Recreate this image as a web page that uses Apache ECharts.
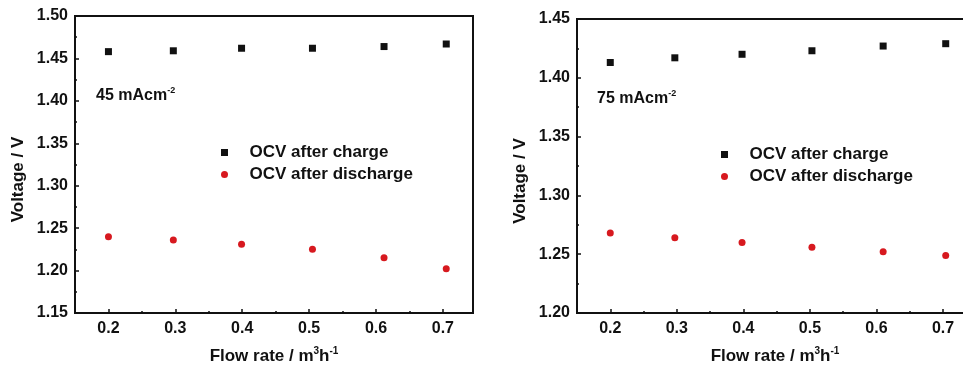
<!DOCTYPE html>
<html>
<head>
<meta charset="utf-8">
<script src="https://cdn.jsdelivr.net/npm/echarts@6/dist/echarts.min.js"></script>
<style>
  html, body { margin: 0; padding: 0; background: #fff; }
  #chart { width: 963px; height: 368px; }
</style>
</head>
<body>
<div id="chart"></div>
<script>
// values
const flowLeft = [0.2, 0.297, 0.399, 0.505, 0.612, 0.705];
const chargeLeft = [1.458, 1.459, 1.462, 1.462, 1.464, 1.467];
const dischargeLeft = [1.240, 1.236, 1.231, 1.225, 1.215, 1.202];

const flowRight = [0.2, 0.297, 0.398, 0.503, 0.610, 0.704];
const chargeRight = [1.413, 1.417, 1.420, 1.423, 1.427, 1.429];
const dischargeRight = [1.268, 1.264, 1.260, 1.256, 1.252, 1.249];

const xTicks = [0.2, 0.3, 0.4, 0.5, 0.6, 0.7];
const xMinorTicks = [0.25, 0.35, 0.45, 0.55, 0.65];
const seriesNames = ['OCV after charge', 'OCV after discharge'];
const panelLabels = ['45', '75'];

const font = '"Liberation Sans", Arial, sans-serif';
const ink = '#111';
const red = '#d7191f';

const pairs = (xs, ys) => xs.map((x, i) => [x, ys[i]]);

const chart = echarts.init(document.getElementById('chart'));

const baseX = (grid, min, max) => ({
    type: 'value', gridIndex: grid, min: min, max: max,
    name: '{m|Flow rate / m}{sup|3}{m|h}{sup|-1}',
    nameLocation: 'middle', nameGap: 33,
    nameTextStyle: {
        fontFamily: font, fontWeight: 'bold', color: ink,
        rich: {
            m: { fontFamily: font, fontWeight: 'bold', fontSize: 17, color: ink, lineHeight: 20 },
            sup: { fontFamily: font, fontWeight: 'bold', fontSize: 10, color: ink, verticalAlign: 'top', lineHeight: 11 }
        },
        fontSize: 17, lineHeight: 20
    },
    splitLine: { show: false },
    axisLine: { onZero: false, lineStyle: { color: ink, width: 2 } },
    axisTick: { inside: true, length: 4, customValues: xTicks, lineStyle: { color: ink, width: 1.5 } },
    axisLabel: {
        customValues: xTicks, margin: 8,
        fontFamily: font, fontWeight: 'bold', fontSize: 16, color: ink,
        formatter: v => v.toFixed(1)
    }
});

const minorX = (grid, min, max) => ({
    type: 'value', gridIndex: grid, min: min, max: max, position: 'bottom',
    splitLine: { show: false },
    axisLine: { show: false, onZero: false },
    axisLabel: { show: false },
    axisTick: { inside: true, length: 2, customValues: xMinorTicks, lineStyle: { color: ink, width: 1.5 } }
});

const baseY = (grid, min, max) => ({
    type: 'value', gridIndex: grid, min: min, max: max, interval: 0.05,
    name: 'Voltage / V', nameLocation: 'middle', nameGap: 48,
    nameTextStyle: {
        fontFamily: font, fontWeight: 'bold', fontSize: 17, color: ink,
        padding: [0, 30, 0, 0]
    },
    splitLine: { show: false },
    axisLine: { onZero: false, lineStyle: { color: ink, width: 2 } },
    axisTick: { inside: true, length: 4, lineStyle: { color: ink, width: 1.5 } },
    minorTick: { show: true, splitNumber: 2, length: 2, lineStyle: { color: ink, width: 1.5 } },
    axisLabel: {
        margin: 7, fontFamily: font, fontWeight: 'bold', fontSize: 16, color: ink,
        formatter: v => v.toFixed(2)
    }
});

const scatter = (name, xAxis, yAxis, data, symbol, color) => ({
    name: name, type: 'scatter', xAxisIndex: xAxis, yAxisIndex: yAxis,
    symbol: symbol, symbolSize: 7, data: data,
    itemStyle: { color: color, opacity: 1 }
});

const legendStyle = (left, top) => ({
    orient: 'vertical', left: left, top: top,
    itemWidth: 40, itemHeight: 7, itemGap: 3,
    data: [
        { name: seriesNames[0], icon: 'path://M0,0H1V1H0Z' },
        { name: seriesNames[1], icon: 'circle' }
    ],
    textStyle: { fontFamily: font, fontWeight: 'bold', fontSize: 17, color: ink, lineHeight: 19 }
});

const panelText = (x, y, label) => ({
    type: 'text', left: x, top: y,
    style: {
        text: '{m|' + label + ' mAcm}{sup|-2}',
        fill: ink,
        rich: {
            m: { fontFamily: font, fontWeight: 'bold', fontSize: 16, fill: ink, lineHeight: 19 },
            sup: { fontFamily: font, fontWeight: 'bold', fontSize: 9, fill: ink, verticalAlign: 'top', lineHeight: 10 }
        }
    }
});

chart.setOption({
    animation: false,
    backgroundColor: '#fff',
    grid: [
        { left: 75, top: 16, width: 398, height: 297, show: true, borderColor: ink, borderWidth: 2, outerBoundsMode: 'none' },
        // right panel runs past the window edge, as in the original
        { left: 577, top: 19, width: 396, height: 294, show: true, borderColor: ink, borderWidth: 2, outerBoundsMode: 'none' }
    ],
    xAxis: [
        baseX(0, 0.15, 0.745),
        baseX(1, 0.15, 0.745),
        minorX(0, 0.15, 0.745),
        minorX(1, 0.15, 0.745)
    ],
    yAxis: [
        baseY(0, 1.15, 1.50),
        baseY(1, 1.20, 1.45)
    ],
    legend: [legendStyle(216, 138), legendStyle(716, 140)],
    graphic: [panelText(96, 86, panelLabels[0]), panelText(597, 89, panelLabels[1])],
    series: [
        scatter(seriesNames[0], 0, 0, pairs(flowLeft, chargeLeft), 'rect', ink),
        scatter(seriesNames[1], 0, 0, pairs(flowLeft, dischargeLeft), 'circle', red),
        scatter(seriesNames[0], 1, 1, pairs(flowRight, chargeRight), 'rect', ink),
        scatter(seriesNames[1], 1, 1, pairs(flowRight, dischargeRight), 'circle', red)
    ]
});
</script>
</body>
</html>
